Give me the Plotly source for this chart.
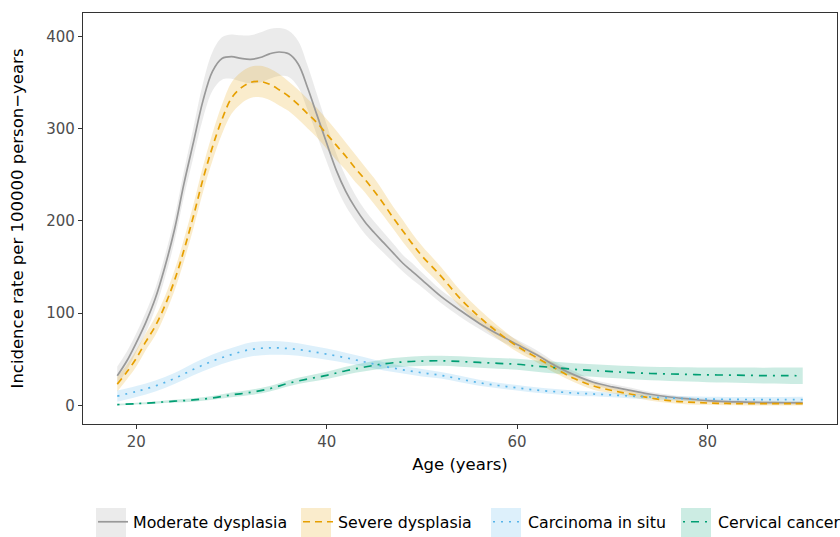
import plotly.graph_objects as go

# ---------------- data ----------------
ages_fine = [18, 19, 20, 21, 22, 23, 24, 25, 26, 27, 28, 29, 30, 31, 32, 33, 34,
             35, 36, 37, 38, 39, 40, 41, 42, 43, 44, 45, 46, 47, 48, 49, 50,
             52, 54, 56, 58, 60, 62, 64, 66, 68, 70, 72, 74, 76, 78, 80, 82, 84,
             86, 88, 90]

moderate = [32, 48, 68, 90, 116, 150, 190, 240, 285, 330, 362, 376, 378, 376,
            375, 377, 381, 383, 381, 370, 344, 314, 284, 255, 232, 214, 199,
            187, 176, 165, 154, 145, 136,
            118, 103, 89, 77, 66, 55, 43, 33, 25, 20, 16, 12, 9, 7, 5, 4, 3.5,
            3, 2.8, 2.6]
moderate_hw = [10, 10, 10, 11, 11, 12, 13, 14, 16, 19, 21, 23, 24, 25, 26, 27,
               27, 26, 25, 25, 24, 22, 20, 18, 16, 14, 13, 12, 11, 10, 9, 9, 8,
               7, 7, 6, 6, 5, 5, 4, 4, 3, 3, 3, 2.5, 2.5, 2, 2, 2, 2, 2, 2, 2]

severe = [23, 36, 51, 69, 86, 108, 135, 168, 205, 245, 280, 310, 333, 344, 350,
          351, 348, 342, 335, 326, 316, 306, 294, 282, 270, 257, 245, 232, 218,
          203, 189, 175, 162,
          140, 116, 96, 79, 64, 52, 40, 29, 21, 16, 12, 8, 5, 3.5, 2.5, 2, 1.8,
          1.8, 1.8, 1.8]
severe_hw = [8, 8, 9, 9, 10, 10, 11, 12, 13, 14, 15, 16, 17, 17, 17, 17, 17, 17,
             16, 16, 16, 16, 16, 16, 15, 15, 14, 14, 13, 12, 12, 11, 11,
             10, 9, 8, 7, 6, 5, 5, 4, 4, 3, 3, 3, 2.5, 2.5, 2, 2, 2, 2, 2, 2]

ages_coarse = [18, 20, 22, 24, 26, 28, 30, 32, 34, 36, 38, 40, 42, 44, 46, 48,
               50, 52, 54, 56, 58, 60, 62, 64, 66, 68, 70, 72, 74, 76, 78, 80,
               82, 84, 86, 88, 90]

cis = [10, 15, 21, 29, 39, 48, 55, 60.5, 62.3, 61.5, 59, 55.5, 51.5, 47, 42.3,
       38.5, 35.3, 32.5, 28.5, 24.5, 21.5, 19, 16.5, 14.8, 13.3, 12.3, 11.2,
       10, 9, 8, 7.2, 6.8, 6.5, 6.3, 6.2, 6.2, 6.2]
cis_hw = [6, 6, 6, 6, 6.5, 7, 7, 7.5, 7.5, 7, 6.5, 6, 5.5, 5, 4.5, 4, 4, 3.5,
          3.5, 3.2, 3, 3, 3, 2.8, 2.8, 2.6, 2.5, 2.5, 2.5, 2.5, 2.5, 2.5, 2.6,
          2.7, 2.8, 2.9, 3]

cancer = [0.8, 1.8, 3, 4.5, 5.8, 8, 11.3, 14, 18, 24, 28.5, 32.5, 37.5, 41.5,
          45, 47, 48, 48.3, 47.5, 46.5, 45.5, 44.5, 42.5, 40.8, 39, 37.8, 36.5,
          35.5, 34.5, 34, 33.5, 33, 32.8, 32.5, 32.2, 32.2, 32]
cancer_hw = [1, 1, 1.2, 1.5, 1.8, 2, 2.5, 2.8, 3, 3.3, 3.6, 4, 4.3, 4.6, 5, 5.2,
             5.4, 5.5, 5.6, 5.7, 5.8, 6, 6.2, 6.4, 6.6, 6.8, 7, 7.2, 7.4, 7.6,
             7.8, 8, 8.2, 8.4, 8.6, 8.8, 9]

names = ["Moderate dysplasia", "Severe dysplasia", "Carcinoma in situ", "Cervical cancer"]
x_ticks = [20, 40, 60, 80]
y_ticks = [0, 100, 200, 300, 400]

# ---------------- styling ----------------
W, H = 840, 537
ML, MR, MT, MB = 83, 3, 13, 113
PW, PH = W - ML - MR, H - MT - MB

series = [
    (ages_fine, moderate, moderate_hw, "#999999", "rgba(153,153,153,0.2)", "solid"),
    (ages_fine, severe, severe_hw, "#E69F00", "rgba(230,159,0,0.2)", "7px,5px"),
    (ages_coarse, cis, cis_hw, "#56B4E9", "rgba(86,180,233,0.2)", "2px,6px"),
    (ages_coarse, cancer, cancer_hw, "#009E73", "rgba(0,158,115,0.2)", "2px,6px,8px,6px"),
]
legend_px = [93, 298, 488, 678]   # left pixel of each legend entry
legend_ids = ["legend", "legend2", "legend3", "legend4"]
legend_cy = 522                   # vertical centre of the legend row (px)

FONT = "DejaVu Sans"
fig = go.Figure()

# ribbons first
for (ax, yv, hw, col, fillc, dash), nm in zip(series, names):
    lo = [v - h for v, h in zip(yv, hw)]
    hi = [v + h for v, h in zip(yv, hw)]
    fig.add_trace(go.Scatter(x=ax, y=lo, mode="lines", line=dict(width=0, shape="spline"),
                             showlegend=False, hoverinfo="skip"))
    fig.add_trace(go.Scatter(x=ax, y=hi, mode="lines", line=dict(width=0, shape="spline"),
                             fill="tonexty", fillcolor=fillc, showlegend=False,
                             hoverinfo="skip"))

# lines
for (ax, yv, hw, col, fillc, dash), nm, lid in zip(series, names, legend_ids):
    fig.add_trace(go.Scatter(x=ax, y=yv, mode="lines", name=nm, legend=lid,
                             line=dict(color=col, width=1.7, dash=dash, shape="spline")))

# legend key backgrounds (ribbon colour squares)
for (ax, yv, hw, col, fillc, dash), lp in zip(series, legend_px):
    fig.add_shape(type="rect", xref="paper", yref="paper",
                  x0=(lp + 3 - ML) / PW, x1=(lp + 33 - ML) / PW,
                  y0=(MT + PH - (legend_cy + 16)) / PH, y1=(MT + PH - (legend_cy - 14)) / PH,
                  fillcolor=fillc, line=dict(width=0), layer="below")

axis_common = dict(
    showgrid=False, zeroline=False, showline=True, mirror=True,
    linecolor="#333333", linewidth=1.3, automargin=False,
    ticks="outside", ticklen=4, tickwidth=1.2, tickcolor="#333333",
    tickfont=dict(family=FONT, size=15, color="#4D4D4D"),
)

legends = {}
for lid, lp in zip(legend_ids, legend_px):
    legends[lid] = dict(orientation="h", x=(lp - ML) / PW, xanchor="left", xref="paper",
                        y=(H - legend_cy) / H, yanchor="middle", yref="container",
                        font=dict(family=FONT, size=15.8, color="black"),
                        itemwidth=30, bgcolor="rgba(0,0,0,0)")

fig.update_layout(
    template="none",
    width=W, height=H,
    margin=dict(l=ML, r=MR, t=MT, b=MB, pad=0, autoexpand=False),
    paper_bgcolor="white", plot_bgcolor="white",
    font=dict(family=FONT, color="black"),
    xaxis=dict(range=[14.4, 93.6], tickvals=x_ticks,
               title=dict(text="Age (years)", font=dict(family=FONT, size=16.5, color="black"),
                          standoff=8),
               **axis_common),
    yaxis=dict(range=[-20.25, 425.25], tickvals=y_ticks,
               title=dict(text="Incidence rate per 100000 person\u2212years",
                          font=dict(family=FONT, size=16.5, color="black"), standoff=18),
               **axis_common),
    **legends,
)

fig.write_html(
    "out.html",
    config={"displayModeBar": False},
    post_script="document.body.style.margin='0';",
)
